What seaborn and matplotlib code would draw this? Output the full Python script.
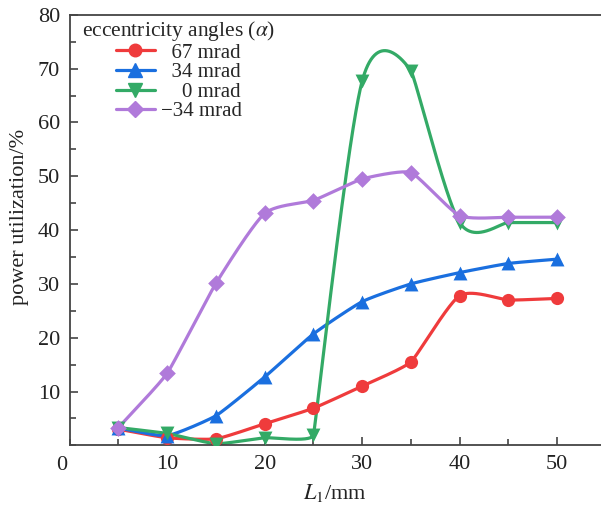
import numpy as np
import pandas as pd
import matplotlib
matplotlib.use("Agg")
import matplotlib.pyplot as plt
from matplotlib.lines import Line2D
from matplotlib.ticker import MultipleLocator
import seaborn as sns

# ---- data -------------------------------------------------------------
L1 = [5, 10, 15, 20, 25, 30, 35, 40, 45, 50]
util_67 = [3.0, 1.4, 1.2, 4.0, 6.9, 11.0, 15.5, 27.8, 27.0, 27.3]
util_34 = [3.2, 1.8, 5.5, 12.7, 20.7, 26.7, 30.0, 32.1, 33.8, 34.6]
util_0 = [3.3, 2.2, 0.3, 1.4, 1.9, 67.7, 69.6, 41.4, 41.4, 41.4]
util_m34 = [3.3, 13.4, 30.1, 43.1, 45.5, 49.5, 50.7, 42.7, 42.4, 42.4]

# labels padded with figure spaces so the numbers line up on the right
labels = ["\u200767 mrad", "\u200734 mrad", "\u2007\u20070 mrad", "\u221234 mrad"]
series = [util_67, util_34, util_0, util_m34]
colors = ["#EF3B3C", "#1A6FDF", "#33AA66", "#B07ADA"]
markers = ["o", "^", "v", "D"]
marker_sizes = [9.5, 10, 10, 8.5]

sns.set_theme(style="ticks")
plt.rcParams["font.family"] = ["Liberation Serif", "DejaVu Serif"]
plt.rcParams["mathtext.fontset"] = "stix"

fig = plt.figure(figsize=(6.01, 5.08), dpi=100)
ax = fig.add_axes([0.116, 0.1234, 0.884, 0.8473])
ax.set_xlim(0, 54.5)
ax.set_ylim(0, 80)


def smooth_curve(xs, ys, n=100):
    """Parametric cubic Hermite curve through the points, built in display space.

    Each tangent follows the neighbouring-point direction and is scaled by the
    length of the segment that arrives at the point.
    """
    P = ax.transData.transform(np.column_stack([xs, ys]))
    k = len(P)
    seg = np.hypot(*np.diff(P, axis=0).T)
    dirs = []
    for i in range(k):
        v = P[min(i + 1, k - 1)] - P[max(i - 1, 0)]
        dirs.append(v / np.linalg.norm(v))
    s = np.linspace(0, 1, n)[:, None]
    h00 = 2 * s ** 3 - 3 * s ** 2 + 1
    h10 = s ** 3 - 2 * s ** 2 + s
    h01 = -2 * s ** 3 + 3 * s ** 2
    h11 = s ** 3 - s ** 2
    out = []
    for i in range(k - 1):
        d_in = seg[i - 1] if i > 0 else seg[i]
        m0 = dirs[i] * 0.5 * d_in
        m1 = dirs[i + 1] * 0.5 * seg[i]
        c = h00 * P[i] + h10 * m0 + h01 * P[i + 1] + h11 * m1
        out.append(c if i == 0 else c[1:])
    back = ax.transData.inverted().transform(np.vstack(out))
    return back[:, 0], back[:, 1]


for lab, vals, col, mk, ms in zip(labels, series, colors, markers, marker_sizes):
    cx, cy = smooth_curve(np.array(L1, float), np.array(vals, float))
    curve = pd.DataFrame({"x": cx, "y": cy})
    sns.lineplot(data=curve, x="x", y="y", sort=False, estimator=None,
                 color=col, linewidth=2.3, ax=ax, legend=False)
    pts = pd.DataFrame({"x": L1, "y": vals})
    sns.scatterplot(data=pts, x="x", y="y", marker=mk, s=ms ** 2, color=col,
                    edgecolor=col, linewidth=0, ax=ax, legend=False, zorder=3)

# ---- axes styling ------------------------------------------------------
spine_col = "#444444"
for side in ["left", "bottom", "top"]:
    ax.spines[side].set_color(spine_col)
    ax.spines[side].set_linewidth(1.3)
ax.spines["right"].set_visible(False)

ax.xaxis.set_major_locator(MultipleLocator(10))
ax.xaxis.set_minor_locator(MultipleLocator(5))
ax.yaxis.set_major_locator(MultipleLocator(10))
ax.yaxis.set_minor_locator(MultipleLocator(5))
ax.tick_params(which="both", direction="in", color=spine_col, width=1.2,
               labelsize=16, labelcolor="#222222", top=False, right=False)
ax.tick_params(which="major", length=5.5, pad=7)
ax.tick_params(which="minor", length=4)
ax.set_xticks([10, 20, 30, 40, 50])
ax.set_yticks([10, 20, 30, 40, 50, 60, 70, 80])
ax.text(-0.3, -1.9, "0", ha="right", va="top", fontsize=16, color="#222222")

ax.set_xlabel(r"$L_1$/mm", fontsize=16, color="#222222", labelpad=6)
ax.set_ylabel("power utilization/%", fontsize=16, color="#222222", labelpad=4)
ax.yaxis.set_label_coords(-0.076, 0.53)

# ---- legend ------------------------------------------------------------
handles = [Line2D([], [], color=c, marker=m, markersize=s * 0.95, linewidth=2.3)
           for c, m, s in zip(colors, markers, marker_sizes)]
leg = ax.legend(handles, labels, title=r"eccentricity angles ($\alpha$)",
                loc="upper left", bbox_to_anchor=(0.016, 1.0), frameon=False,
                fontsize=15, title_fontsize=15.5, handlelength=1.85,
                handletextpad=0.3, labelspacing=0.0, borderaxespad=0.0,
                borderpad=0.2)
leg._legend_box.align = "center"

fig.savefig("out.png", dpi=100)
